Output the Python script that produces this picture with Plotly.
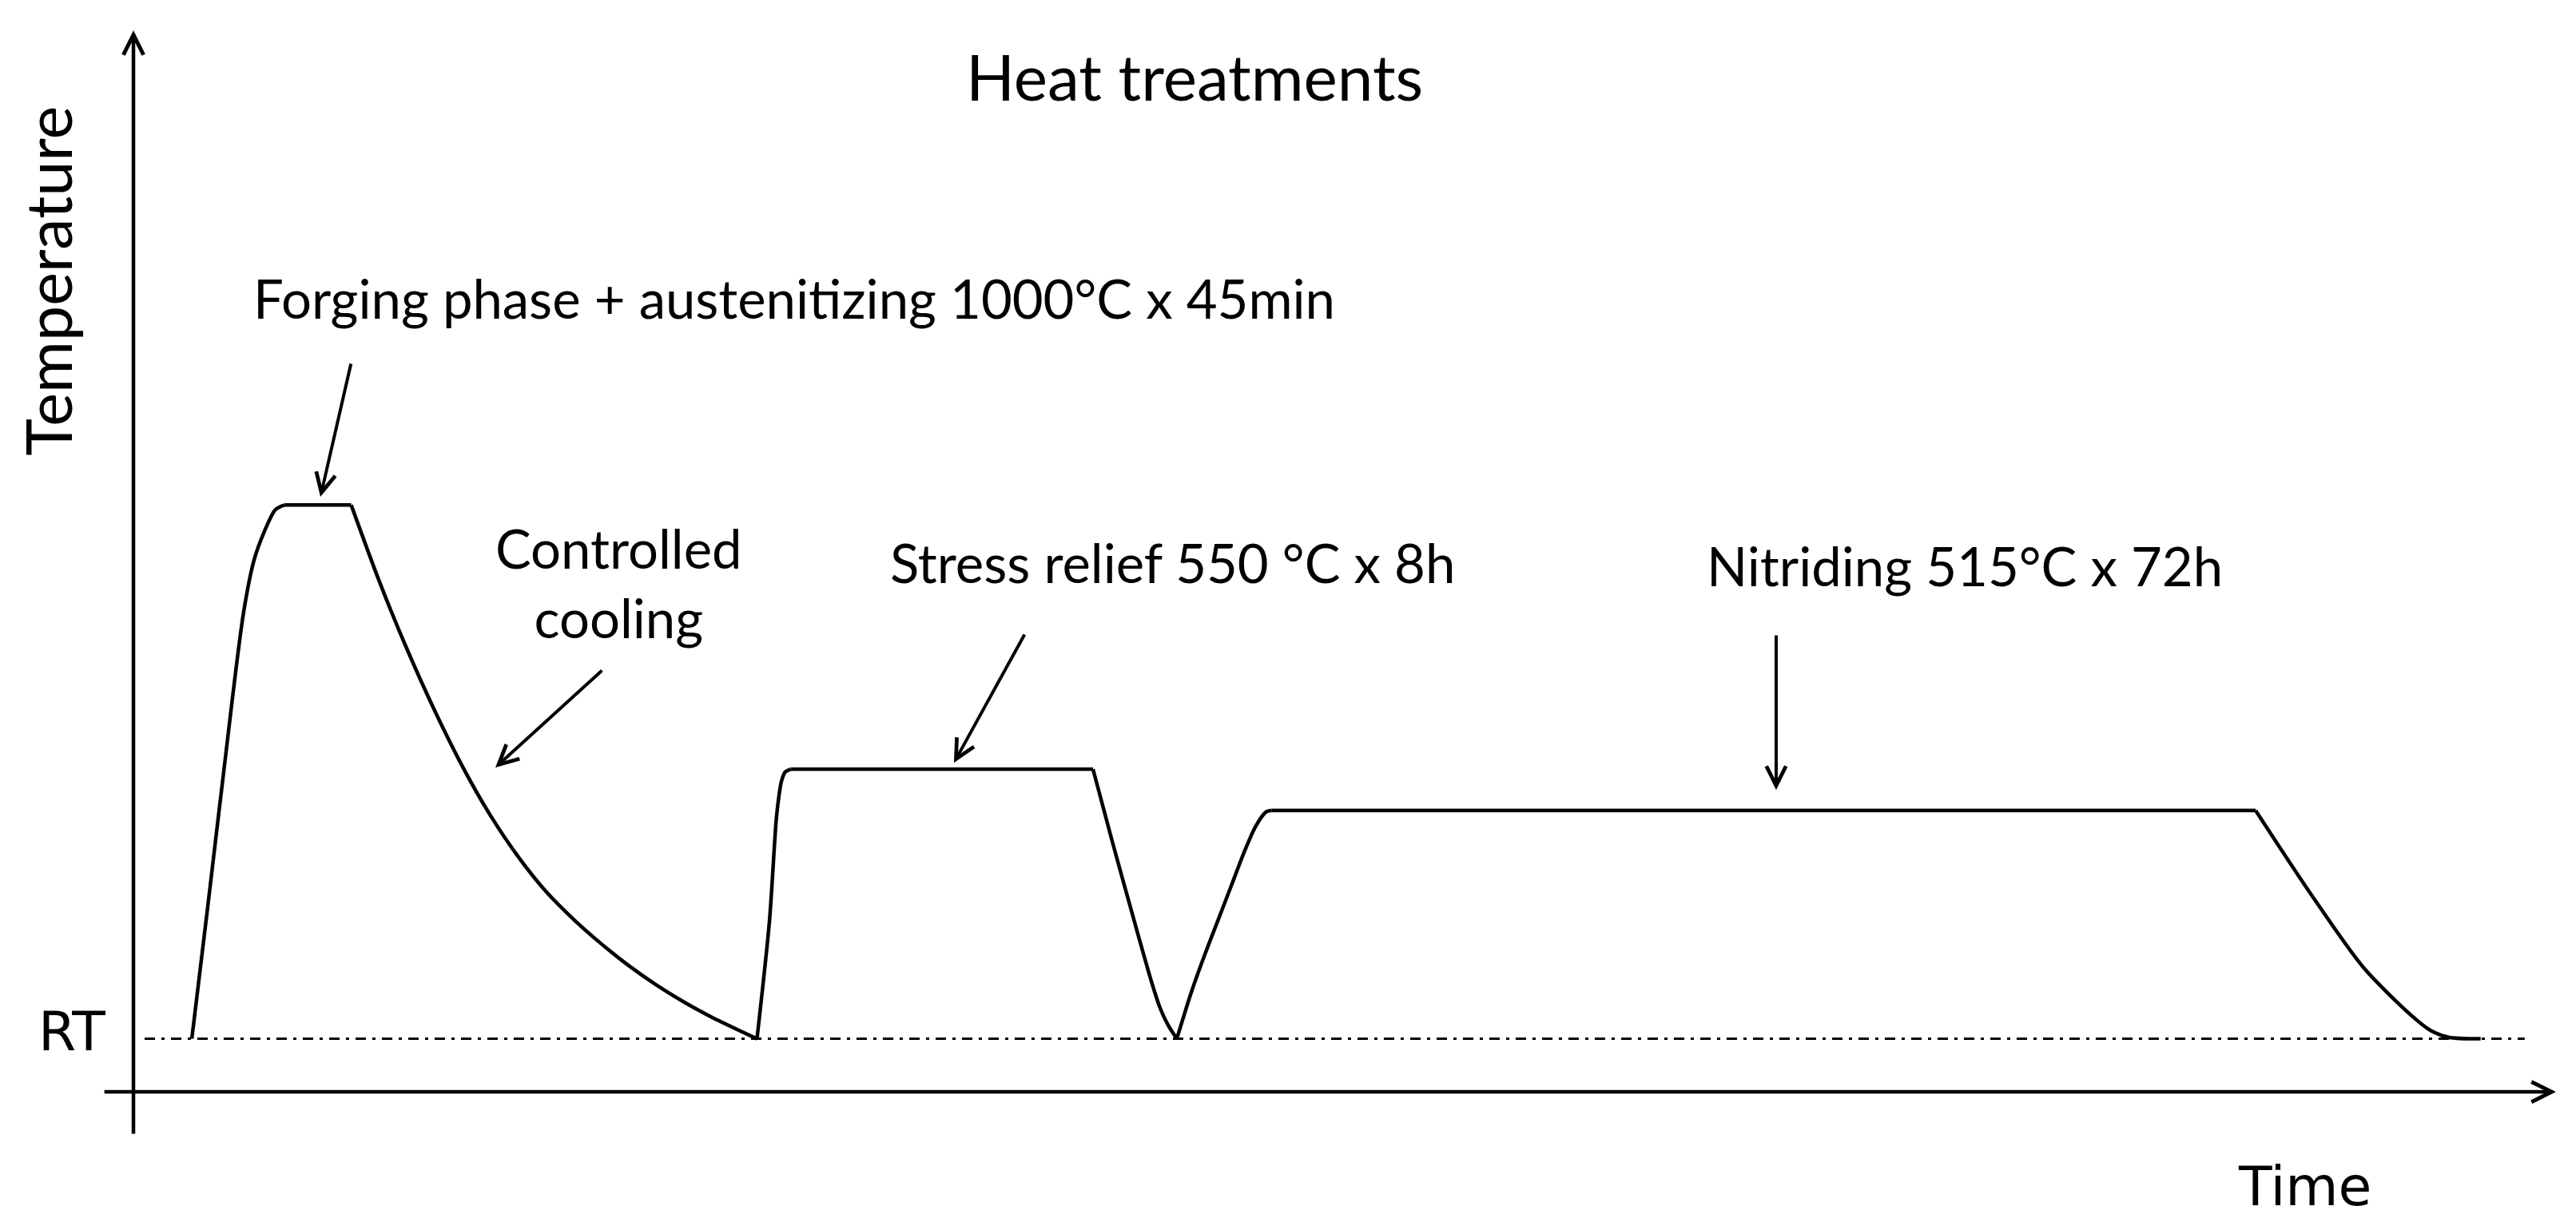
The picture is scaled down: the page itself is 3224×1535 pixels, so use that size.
"""Schematic heat-treatment cycle: temperature vs time (no scale)."""

import plotly.graph_objects as go

# ── Data (schematic units: time 0..100, temperature 0..100) ─────────

RT_LEVEL = 5.0
RT_SPAN = [0.46, 98.71]

# forging: heating ramp, austenitizing hold, controlled cooling
forging_ramp_time = [2.41, 3.07, 3.72, 4.54, 4.98, 5.41, 5.86, 6.23]
forging_ramp_temp = [5.0, 17.5, 30.03, 45.07, 50.11, 52.82, 54.85, 55.28]
forging_hold_time = [6.23, 8.99]
forging_hold_temp = [55.28, 55.28]
cooling_time = [8.99, 10.15, 11.24, 12.49, 13.63, 14.76, 15.90, 17.04,
                18.17, 19.31, 20.44, 21.58, 22.72, 23.85, 25.74]
cooling_temp = [55.28, 48.09, 41.99, 35.65, 30.45, 25.95, 22.10, 18.85,
                16.25, 13.95, 11.90, 10.08, 8.47, 7.06, 5.0]

# stress relief: ramp, hold, cool down
stress_ramp_time = [25.74, 26.25, 26.53, 26.64, 26.75, 26.91, 27.13]
stress_ramp_temp = [5.0, 15.97, 25.51, 27.77, 29.27, 30.15, 30.40]
stress_hold_time = [27.13, 39.61]
stress_hold_temp = [30.40, 30.40]
stress_cool_time = [39.61, 40.38, 40.93, 41.48, 42.03, 42.36, 42.69, 43.07]
stress_cool_temp = [30.40, 23.80, 19.24, 14.73, 10.33, 8.02, 6.37, 5.0]

# nitriding: ramp, long hold, cool down
nitriding_ramp_time = [43.07, 43.68, 44.23, 44.78, 45.33, 45.88, 46.32,
                       46.76, 46.98]
nitriding_ramp_temp = [5.0, 9.46, 12.96, 16.23, 19.49, 22.75, 25.00,
                       26.39, 26.51]
nitriding_hold_time = [46.98, 87.60]
nitriding_hold_temp = [26.51, 26.51]
nitriding_cool_time = [87.60, 89.85, 92.05, 94.03, 94.80, 95.57, 96.89]
nitriding_cool_temp = [26.51, 18.74, 11.72, 7.20, 5.82, 5.14, 5.0]

labels = [
    "Forging phase + austenitizing 1000°C x 45min",
    "Controlled<br>cooling",
    "Stress relief 550 °C x 8h",
    "Nitriding 515°C x 72h",
]

TEXT_FONT = "Lato, 'Open Sans', sans-serif"
AXIS_FONT = "'DejaVu Sans', sans-serif"
INK = "#000000"

fig = go.Figure()

# Room-temperature reference line
fig.add_trace(
    go.Scatter(
        x=RT_SPAN,
        y=[RT_LEVEL, RT_LEVEL],
        mode="lines",
        line=dict(color=INK, width=3, dash="13px,8px,4px,8px"),
        hoverinfo="skip",
        showlegend=False,
    )
)

# Thermal cycle: curved ramps / cooling, straight holds
segments = [
    (forging_ramp_time, forging_ramp_temp, "spline"),
    (forging_hold_time, forging_hold_temp, "linear"),
    (cooling_time, cooling_temp, "spline"),
    (stress_ramp_time, stress_ramp_temp, "spline"),
    (stress_hold_time, stress_hold_temp, "linear"),
    (stress_cool_time, stress_cool_temp, "spline"),
    (nitriding_ramp_time, nitriding_ramp_temp, "spline"),
    (nitriding_hold_time, nitriding_hold_temp, "linear"),
    (nitriding_cool_time, nitriding_cool_temp, "spline"),
]
for seg_t, seg_T, shape in segments:
    fig.add_trace(
        go.Scatter(
            x=seg_t,
            y=seg_T,
            mode="lines",
            line=dict(color=INK, width=4.5, shape=shape, smoothing=0.8),
            showlegend=False,
        )
    )


def _arrow(x0, y0, x1, y1, width=4.0, head=5, size=1.2):
    """Arrow from (x0, y0) to (x1, y1) in data coordinates."""
    fig.add_annotation(
        x=x1, y=y1, ax=x0, ay=y0,
        xref="x", yref="y", axref="x", ayref="y",
        text="", showarrow=True,
        arrowhead=head, arrowsize=size, arrowwidth=width,
        arrowcolor=INK, standoff=0,
    )


def _text(x, y, text, size, family=TEXT_FONT, angle=0):
    fig.add_annotation(
        x=x, y=y, xref="x", yref="y",
        text=text, showarrow=False, textangle=angle,
        font=dict(family=family, size=size, color=INK),
        xanchor="center", yanchor="middle",
    )


# Axes drawn as arrows
_arrow(-1.25, 0, 100, 0, width=4.5, size=1.1)
_arrow(0, -4.06, 0, 100, width=4.5, size=1.1)

# Pointer arrows
_arrow(8.99, 68.70, 7.72, 56.06)
_arrow(19.39, 39.80, 14.94, 30.55)
_arrow(36.81, 43.19, 33.87, 31.00)
_arrow(67.81, 43.12, 67.81, 28.44)

# Text
_text(43.80, 95.7, "Heat treatments", 80)
_text(27.29, 74.8, labels[0], 67)
_text(20.05, 48.0, labels[1], 67)
_text(42.88, 49.9, labels[2], 67)
_text(75.60, 49.6, labels[3], 67)
_text(-3.53, 76.4, "Temperature", 79, angle=-90)
_text(-2.54, 5.72, "RT", 68, family=AXIS_FONT)
_text(89.64, -8.95, "Time", 68, family=AXIS_FONT)

fig.update_xaxes(range=[-5.244, 101.09], visible=False, fixedrange=True)
fig.update_yaxes(range=[-13.24, 102.26], visible=False, fixedrange=True)

fig.update_layout(
    width=3224,
    height=1535,
    margin=dict(l=0, r=0, t=0, b=0),
    paper_bgcolor="white",
    plot_bgcolor="white",
    showlegend=False,
)

fig.write_html("out.html")
